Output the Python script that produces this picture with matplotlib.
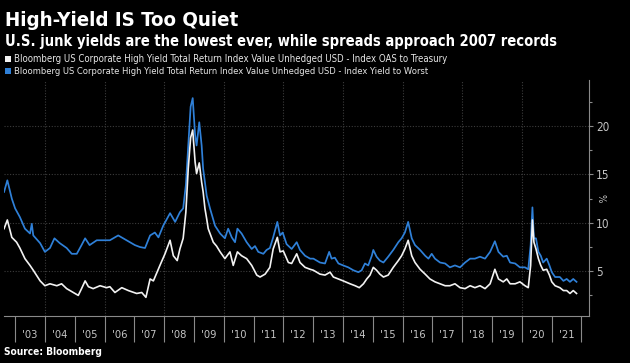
import matplotlib
matplotlib.use("Agg")
import matplotlib.pyplot as plt
from matplotlib import font_manager as fm
from matplotlib.patches import Rectangle
from matplotlib.ticker import FixedLocator, FixedFormatter, NullFormatter

# ---------------- data ----------------
ytw_t = [2002.63, 2002.74, 2002.89, 2003.00, 2003.16, 2003.33, 2003.50, 2003.56, 2003.61, 2003.84,
         2004.00, 2004.17, 2004.32, 2004.50, 2004.73, 2004.90, 2005.07, 2005.23, 2005.35, 2005.50,
         2005.74, 2005.96, 2006.18, 2006.46, 2006.74, 2007.02, 2007.19, 2007.36, 2007.53, 2007.69,
         2007.81, 2007.97, 2008.20, 2008.37, 2008.53, 2008.64, 2008.73, 2008.81, 2008.89, 2008.96,
         2009.04, 2009.09, 2009.18, 2009.26, 2009.31, 2009.43, 2009.54, 2009.71, 2009.88, 2010.04,
         2010.15, 2010.27, 2010.38, 2010.46, 2010.60, 2010.77, 2010.94, 2011.05, 2011.16, 2011.33,
         2011.44, 2011.55, 2011.66, 2011.80, 2011.89, 2011.98, 2012.11, 2012.28, 2012.45, 2012.56,
         2012.73, 2012.90, 2013.01, 2013.12, 2013.23, 2013.40, 2013.54, 2013.62, 2013.73, 2013.85,
         2014.01, 2014.18, 2014.35, 2014.52, 2014.63, 2014.74, 2014.85, 2014.97, 2015.02, 2015.13,
         2015.24, 2015.36, 2015.52, 2015.69, 2015.86, 2015.97, 2016.08, 2016.19, 2016.31, 2016.42,
         2016.59, 2016.76, 2016.87, 2016.98, 2017.09, 2017.26, 2017.43, 2017.59, 2017.76, 2017.93,
         2018.10, 2018.27, 2018.43, 2018.60, 2018.77, 2018.94, 2019.10, 2019.22, 2019.38, 2019.50,
         2019.61, 2019.78, 2019.94, 2020.11, 2020.22, 2020.30, 2020.36, 2020.41, 2020.48, 2020.56,
         2020.64, 2020.72, 2020.84, 2020.93, 2021.01, 2021.12, 2021.28, 2021.40, 2021.51, 2021.62,
         2021.73, 2021.84]
ytw_v = [13.2, 14.4, 12.5, 11.5, 10.6, 9.4, 8.9, 9.9, 8.7, 7.9,
         7.0, 7.4, 8.4, 7.9, 7.4, 6.8, 6.8, 7.7, 8.4, 7.7,
         8.2, 8.2, 8.2, 8.7, 8.2, 7.7, 7.5, 7.4, 8.7, 9.0,
         8.5, 9.7, 11.0, 10.1, 11.1, 11.5, 13.9, 18.0, 22.0, 22.9,
         19.1, 18.0, 20.4, 18.0, 15.6, 12.8, 11.5, 9.7, 8.9, 8.4,
         9.4, 8.5, 8.0, 9.4, 8.9, 8.0, 7.3, 7.6, 7.0, 6.8,
         7.2, 7.4, 8.5, 10.1, 8.7, 9.0, 7.8, 7.3, 8.0, 7.2,
         6.6, 6.3, 6.3, 6.1, 5.9, 5.8, 7.0, 6.3, 6.4, 5.8,
         5.6, 5.4, 5.1, 4.9, 5.1, 5.8, 5.6, 6.6, 7.2, 6.5,
         6.1, 5.9, 6.5, 7.2, 8.0, 8.4, 9.0, 10.1, 8.4, 7.7,
         7.2, 6.6, 6.3, 6.8, 6.3, 5.9, 5.8, 5.4, 5.6, 5.4,
         5.9, 6.3, 6.3, 6.5, 6.3, 7.0, 8.1, 7.0, 6.5, 6.6,
         5.9, 5.8, 5.4, 5.4, 5.2, 7.7, 11.6, 8.4, 8.4, 7.0,
         6.6, 5.9, 6.3, 5.6, 4.9, 4.4, 4.4, 4.0, 4.2, 3.9,
         4.2, 3.9]

oas_t = [2002.63, 2002.74, 2002.89, 2003.05, 2003.16, 2003.33, 2003.50, 2003.61, 2003.84, 2004.00,
         2004.17, 2004.40, 2004.56, 2004.73, 2004.95, 2005.12, 2005.23, 2005.35, 2005.46, 2005.62,
         2005.85, 2006.07, 2006.18, 2006.35, 2006.58, 2006.80, 2007.08, 2007.25, 2007.39, 2007.53,
         2007.64, 2007.75, 2007.86, 2008.03, 2008.20, 2008.31, 2008.44, 2008.53, 2008.64, 2008.73,
         2008.81, 2008.89, 2008.96, 2009.04, 2009.09, 2009.18, 2009.26, 2009.31, 2009.37, 2009.43,
         2009.48, 2009.65, 2009.76, 2009.88, 2010.04, 2010.21, 2010.32, 2010.46, 2010.60, 2010.77,
         2010.94, 2011.11, 2011.22, 2011.39, 2011.55, 2011.66, 2011.80, 2011.89, 2012.00, 2012.17,
         2012.28, 2012.45, 2012.56, 2012.73, 2012.90, 2013.01, 2013.23, 2013.40, 2013.57, 2013.68,
         2013.85, 2014.01, 2014.24, 2014.41, 2014.55, 2014.69, 2014.80, 2014.91, 2015.02, 2015.13,
         2015.24, 2015.36, 2015.52, 2015.69, 2015.86, 2015.97, 2016.08, 2016.19, 2016.31, 2016.42,
         2016.59, 2016.76, 2016.92, 2017.09, 2017.26, 2017.43, 2017.59, 2017.76, 2017.93, 2018.10,
         2018.27, 2018.43, 2018.60, 2018.77, 2018.94, 2019.10, 2019.22, 2019.38, 2019.50, 2019.61,
         2019.78, 2019.94, 2020.11, 2020.22, 2020.30, 2020.36, 2020.41, 2020.48, 2020.56, 2020.64,
         2020.72, 2020.84, 2020.93, 2021.01, 2021.12, 2021.28, 2021.40, 2021.51, 2021.62, 2021.73,
         2021.84]
oas_v = [9.4, 10.3, 8.5, 8.0, 7.4, 6.3, 5.6, 5.1, 4.0, 3.5,
         3.7, 3.5, 3.7, 3.2, 2.8, 2.5, 3.2, 4.0, 3.4, 3.2,
         3.5, 3.3, 3.4, 2.8, 3.3, 3.0, 2.7, 2.8, 2.3, 4.2,
         4.0, 4.8, 5.6, 6.8, 8.2, 6.6, 6.1, 7.3, 8.4, 11.1,
         15.6, 18.8, 19.6, 16.3, 15.1, 16.2, 14.2, 13.2, 11.5, 10.4,
         9.4, 8.0, 7.6, 7.0, 6.3, 7.0, 5.6, 7.0, 6.6, 6.3,
         5.6, 4.6, 4.4, 4.7, 5.4, 7.3, 8.5, 7.0, 7.1, 5.9,
         5.8, 6.8, 5.9, 5.4, 5.2, 5.1, 4.7, 4.6, 4.9, 4.4,
         4.2, 4.0, 3.7, 3.5, 3.3, 3.7, 4.2, 4.6, 5.4, 5.1,
         4.7, 4.4, 4.6, 5.4, 6.1, 6.6, 7.3, 8.2, 6.6, 5.9,
         5.2, 4.7, 4.2, 3.9, 3.7, 3.5, 3.5, 3.7, 3.3, 3.2,
         3.5, 3.3, 3.5, 3.2, 3.7, 5.2, 4.2, 3.9, 4.2, 3.7,
         3.7, 3.9, 3.5, 3.3, 5.6, 10.3, 8.0, 7.3, 6.3, 5.6,
         5.1, 5.2, 4.6, 3.9, 3.5, 3.3, 3.0, 3.0, 2.7, 3.0,
         2.7]

years = list(range(2003, 2022))
year_labels = ["'03", "'04", "'05", "'06", "'07", "'08", "'09", "'10", "'11", "'12",
               "'13", "'14", "'15", "'16", "'17", "'18", "'19", "'20", "'21"]
y_major = [5, 10, 15, 20]
y_labels = ["5", "10", "15", "20"]

title = "High-Yield IS Too Quiet"
subtitle = "U.S. junk yields are the lowest ever, while spreads approach 2007 records"
legend_labels = [
    "Bloomberg US Corporate High Yield Total Return Index Value Unhedged USD - Index OAS to Treasury",
    "Bloomberg US Corporate High Yield Total Return Index Value Unhedged USD - Index Yield to Worst",
]
source = "Source: Bloomberg"
unit = "%"

# ---------------- style ----------------
WHITE = "#f2f2f2"
BLUE = "#2f80d8"
GRID = "#3c3c3c"
AXC = "#8a8a8a"
TXT = "#c4c4c4"

names = {f.name for f in fm.fontManager.ttflist}
cond_dejavu = any(f.name == "DejaVu Sans" and f.stretch in ("condensed", 400, "semi-condensed")
                  for f in fm.fontManager.ttflist)
if "Liberation Sans Narrow" in names:
    FAM, STRETCH = "Liberation Sans Narrow", "normal"
elif cond_dejavu:
    FAM, STRETCH = "DejaVu Sans", "condensed"
else:
    FAM, STRETCH = "DejaVu Sans", "normal"
plt.rcParams["font.family"] = [FAM, "DejaVu Sans"]
plt.rcParams["font.stretch"] = STRETCH

W, H = 630, 363
fig = plt.figure(figsize=(W / 100, H / 100), dpi=100, facecolor="black")
renderer = fig.canvas.get_renderer()


def fy(y):
    return 1 - y / H


def fit(x, y, s, width, size0=10, **kw):
    t = fig.text(x / W, fy(y), s, fontsize=size0, va="baseline", ha="left", **kw)
    w = t.get_window_extent(renderer=renderer).width
    t.set_fontsize(size0 * width / w)
    return t


fit(5, 26, title, 232, weight="bold", color="white")
fit(5, 46, subtitle, 546, weight="bold", color="white")
fit(14, 62, legend_labels[0], 434, color="#e6e6e6")
fit(14, 74, legend_labels[1], 416, color="#e6e6e6")
fit(4, 355, source, 98, weight="bold", color="white")
fig.patches.append(Rectangle((5 / W, fy(62)), 6 / W, 6 / H, transform=fig.transFigure,
                             facecolor=WHITE, edgecolor="none"))
fig.patches.append(Rectangle((5 / W, fy(74)), 6 / W, 6 / H, transform=fig.transFigure,
                             facecolor=BLUE, edgecolor="none"))

L, R, T, B = 4, 589, 80, 316
ax = fig.add_axes([L / W, fy(B), (R - L) / W, (B - T) / H])
ax.set_facecolor("black")

x0 = 2003.5 + (L - 30) / 29.8
x1 = 2003.5 + (R - 30) / 29.8
ax.set_xlim(x0, x1)
ax.set_ylim(0.37, 24.77)

for yv in y_major:
    ax.axhline(yv, color=GRID, lw=0.8, ls=(0, (1, 1.5)), zorder=0)
for yr in years:
    if yr % 2 == 0:
        ax.axvline(yr, color=GRID, lw=0.8, ls=(0, (1, 1.5)), zorder=0)

ax.plot(ytw_t, ytw_v, color=BLUE, lw=1.25, zorder=2)
ax.plot(oas_t, oas_v, color=WHITE, lw=1.2, zorder=3)

for s in ("left", "top"):
    ax.spines[s].set_visible(False)
ax.spines["right"].set_color(AXC)
ax.spines["bottom"].set_color(AXC)
ax.spines["right"].set_linewidth(0.8)
ax.spines["bottom"].set_linewidth(0.8)

# x axis: long separators at year boundaries, labels at mid-year
ax.xaxis.set_major_locator(FixedLocator(years + [2022]))
ax.xaxis.set_major_formatter(NullFormatter())
ax.xaxis.set_minor_locator(FixedLocator([y + 0.5 for y in years]))
ax.xaxis.set_minor_formatter(FixedFormatter(year_labels))
ax.tick_params(axis="x", which="major", length=19, width=0.8, color=AXC, direction="out")
ax.tick_params(axis="x", which="minor", length=0, pad=10, labelsize=8, labelcolor=TXT)

# y axis on right
ax.yaxis.tick_right()
ax.yaxis.set_major_locator(FixedLocator(y_major))
ax.yaxis.set_major_formatter(FixedFormatter(y_labels))
ax.yaxis.set_minor_locator(FixedLocator([2.5, 7.5, 12.5, 17.5, 22.5]))
ax.tick_params(axis="y", which="major", length=3, width=0.8, color=AXC, pad=2,
               labelsize=8.5, labelcolor=TXT)
ax.tick_params(axis="y", which="minor", length=2, width=0.8, color=AXC)

fig.text(601 / W, fy(198), unit, rotation=270, color=TXT, fontsize=7, ha="center", va="center")

fig.savefig("out.png", dpi=100, facecolor="black")
